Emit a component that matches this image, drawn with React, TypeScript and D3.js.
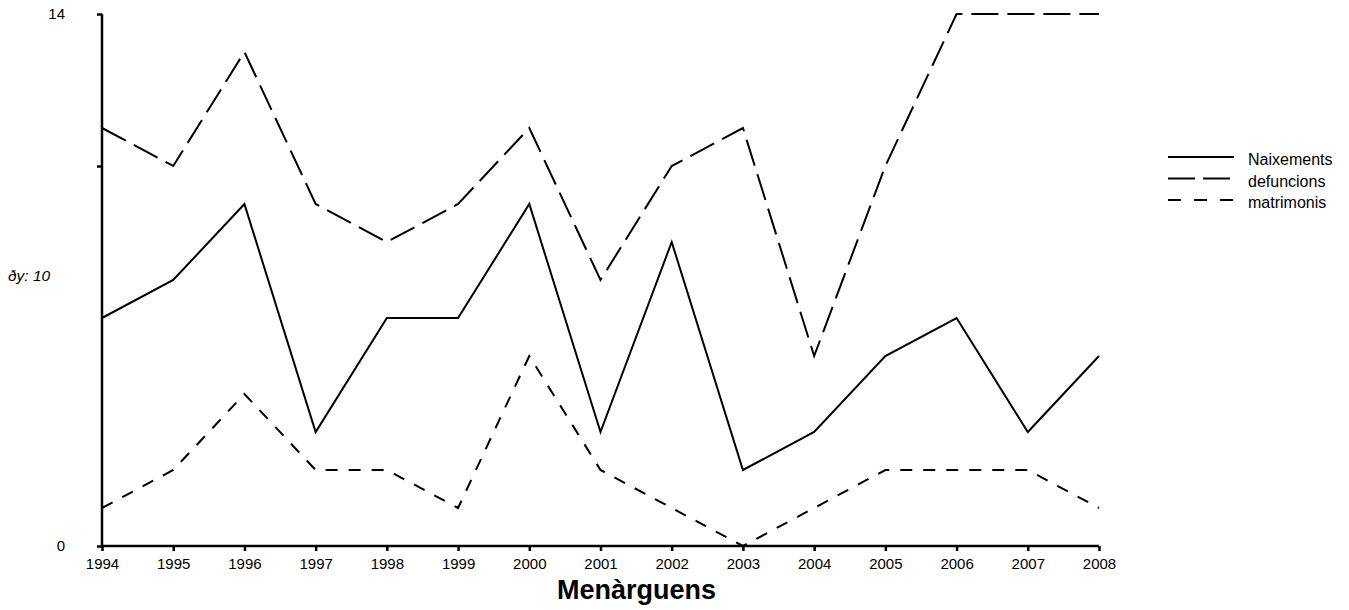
import React, { useEffect, useRef } from 'react';
import * as d3 from 'd3';

const years = [1994, 1995, 1996, 1997, 1998, 1999, 2000, 2001, 2002, 2003, 2004, 2005, 2006, 2007, 2008];
const naixements = [6, 7, 9, 3, 6, 6, 9, 3, 8, 2, 3, 5, 6, 3, 5];
const defuncions = [11, 10, 13, 9, 8, 9, 11, 7, 10, 11, 5, 10, 14, 14, 14];
const matrimonis = [1, 2, 4, 2, 2, 1, 5, 2, 1, 0, 1, 2, 2, 2, 1];

const seriesNames = ['Naixements', 'defuncions', 'matrimonis'];
const yTicks = [0, 10, 14];
const yTickLabels = ['0', '', '14'];

const W = 1349;
const H = 610;

const App: React.FC = () => {
  const svgRef = useRef<SVGSVGElement>(null);

  useEffect(() => {
    const svg = d3.select(svgRef.current);
    svg.selectAll('*').remove();

    const margin = { top: 14, right: 250, bottom: 64, left: 102 };
    const chartWidth = W - margin.left - margin.right;
    const chartHeight = H - margin.top - margin.bottom;

    const g = svg.append('g').attr('transform', `translate(${margin.left},${margin.top})`);

    const xScale = d3.scaleLinear()
      .domain([years[0], years[years.length - 1]])
      .range([0, chartWidth]);

    const yScale = d3.scaleLinear()
      .domain([0, 14])
      .range([chartHeight, 0]);

    const font = 'Liberation Sans, Arial, sans-serif';

    // X Axis
    const xAxis = g.append('g')
      .attr('transform', `translate(0,${chartHeight})`)
      .call(d3.axisBottom(xScale).tickValues(years).tickFormat(d3.format('d')).tickSize(5).tickPadding(7));
    xAxis.selectAll('text')
      .attr('fill', '#000')
      .attr('font-size', 15)
      .attr('font-family', font);

    // Y Axis
    const yAxis = g.append('g')
      .call(d3.axisLeft(yScale).tickValues(yTicks).tickFormat((_d, i) => yTickLabels[i]).tickSize(5).tickPadding(32));
    yAxis.selectAll('text')
      .attr('fill', '#000')
      .attr('font-size', 15)
      .attr('font-family', font);

    g.selectAll('.domain, .tick line')
      .attr('stroke', '#000')
      .attr('stroke-width', 2.5);
    g.selectAll('.domain').attr('d', null);
    xAxis.append('line').attr('x1', 0).attr('x2', chartWidth).attr('stroke', '#000').attr('stroke-width', 2.5);
    yAxis.append('line').attr('y1', 0).attr('y2', chartHeight).attr('stroke', '#000').attr('stroke-width', 2.5);

    // stray y label
    svg.append('text')
      .attr('x', 8)
      .attr('y', 281)
      .attr('font-size', 15.5)
      .attr('font-style', 'italic')
      .attr('font-family', font)
      .attr('fill', '#000')
      .text('ðy: 10');

    const allSeries = [naixements, defuncions, matrimonis];
    const dashes = ['none', '27,9', '12,11'];

    const line = d3.line<number>()
      .x((_d, i) => xScale(years[i]))
      .y(d => yScale(d));

    allSeries.forEach((s, k) => {
      g.append('path')
        .datum(s)
        .attr('d', line)
        .attr('fill', 'none')
        .attr('stroke', '#000')
        .attr('stroke-width', 2)
        .attr('stroke-dasharray', dashes[k]);
    });

    // Legend
    const legend = svg.append('g').attr('transform', 'translate(1168,157)');
    seriesNames.forEach((name, k) => {
      const row = legend.append('g').attr('transform', `translate(0,${k * 21.5})`);
      row.append('line')
        .attr('x1', 0)
        .attr('x2', 66)
        .attr('stroke', '#000')
        .attr('stroke-width', 2)
        .attr('stroke-dasharray', k === 1 ? '27,8' : k === 2 ? '13,13' : 'none');
      row.append('text')
        .attr('x', 80)
        .attr('y', 8)
        .attr('font-size', 16)
        .attr('font-family', font)
        .attr('fill', '#000')
        .text(name);
    });

    // Title
    svg.append('text')
      .attr('x', margin.left + chartWidth / 2 + 36)
      .attr('y', 599)
      .attr('text-anchor', 'middle')
      .attr('font-size', 27)
      .attr('font-weight', 'bold')
      .attr('font-family', font)
      .attr('fill', '#000')
      .text('Menàrguens');
  }, []);

  return (
    <svg
      ref={svgRef}
      width={W}
      height={H}
      style={{ position: 'absolute', left: 0, top: 0, background: '#fff' }}
    ></svg>
  );
};

export default App;
